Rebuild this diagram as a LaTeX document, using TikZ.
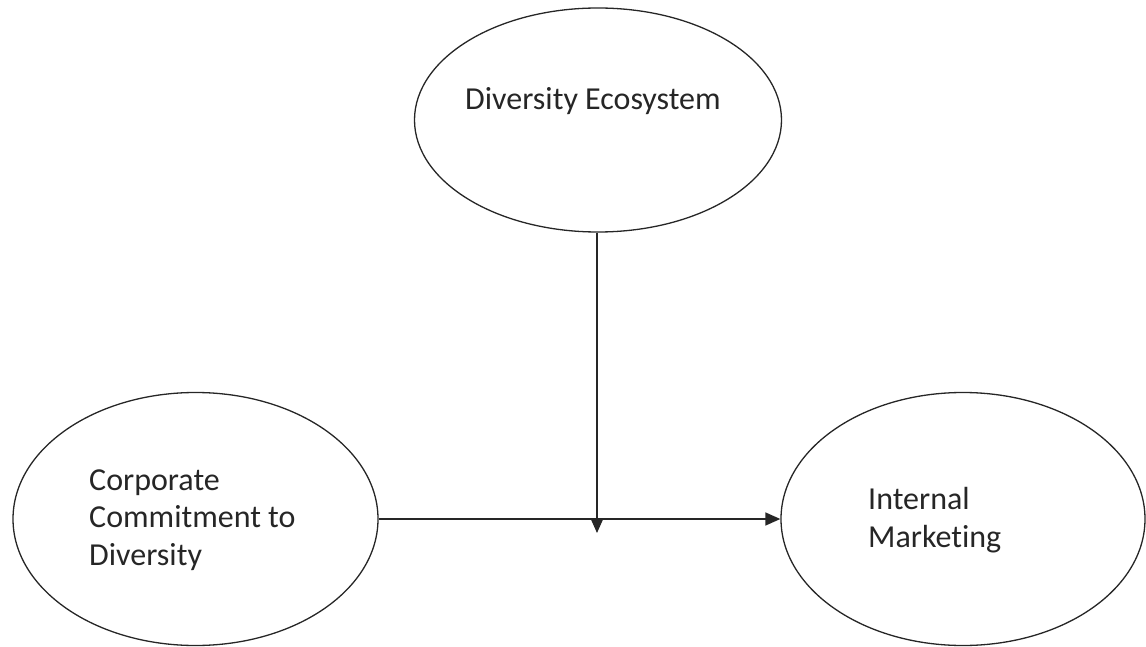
\documentclass[tikz,border=0pt]{standalone}
\usepackage{fontspec}
\setmainfont[Ligatures=NoCommon]{Carlito}
\usetikzlibrary{shapes.geometric,arrows.meta}
\tikzset{
  oval/.style={draw=black!85, line width=1.3pt, ellipse, inner sep=0pt},
  lbl/.style={anchor=base west, align=left, inner sep=0pt, font=\fontsize{32}{37.5}\selectfont, text=black!85},
  link/.style={draw=black!85, line width=1.4pt, -{Triangle[length=15pt,width=13pt]}}
}
\begin{document}
\begin{tikzpicture}[x=1pt,y=-1pt]
\useasboundingbox (0,0) rectangle (1146,647);
% the three constructs
\node[oval, minimum width=367pt, minimum height=224pt] (eco) at (598,120) {};
\node[oval, minimum width=365pt, minimum height=253pt] (ccd) at (195.5,519) {};
\node[oval, minimum width=364pt, minimum height=253pt] (im) at (963,519) {};
% their labels (base anchor sits on the last line)
\node[lbl] (ecot) at (465,110) {Diversity Ecosystem};
\node[lbl] (ccdt) at (89,565) {Corporate\\Commitment to\\Diversity};
\node[lbl] (imt) at (868,547) {Internal\\Marketing};
% direct path and moderating path
\coordinate (mod) at (597,533);
\draw[link] (ccd.east) -- (im.west);
\draw[link] (eco.south -| mod) -- (mod);
\end{tikzpicture}
\end{document}
